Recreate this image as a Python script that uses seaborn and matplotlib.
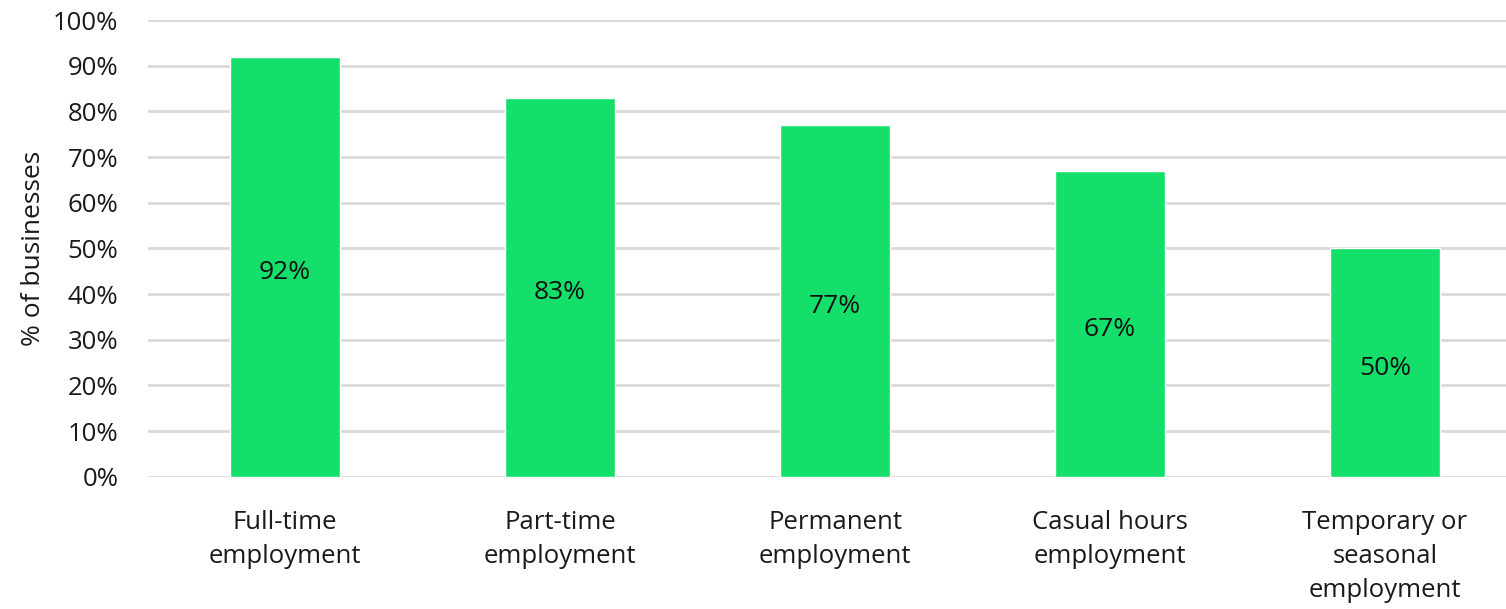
import pandas as pd
import seaborn as sns
import matplotlib.pyplot as plt

categories = ['Full-time\nemployment', 'Part-time\nemployment', 'Permanent\nemployment',
              'Casual hours\nemployment', 'Temporary or\nseasonal\nemployment']
values = [92, 83, 77, 67, 50]

df = pd.DataFrame({'type': categories, 'pct': values})

sns.set_style('white')
plt.rcParams['font.family'] = ['Open Sans', 'DejaVu Sans']
plt.rcParams['font.weight'] = 500

fig = plt.figure(figsize=(15.06, 6.09), dpi=100)
ax = fig.add_axes([0.098, 0.217, 0.902, 0.750])

sns.barplot(data=df, x='type', y='pct', color='#14df6b', width=0.4,
            saturation=1, ax=ax, zorder=3)

# labels in the middle of each bar (slightly below centre as in the original)
for i, v in enumerate(values):
    ax.annotate(f'{v}%', (i, v / 2), xytext=(0, -4), textcoords='offset points',
                ha='center', va='center', fontsize=19, color='#111111', zorder=4)

ax.set_ylim(0, 100)
ax.set_xlim(-0.5, 4.44)
ax.set_yticks(range(0, 101, 10))
ax.set_yticklabels([f'{t}%' for t in range(0, 101, 10)], fontsize=18.5, color='#1a1a1a')
ax.tick_params(axis='x', labelsize=18.5, colors='#1a1a1a', length=0, pad=24)
ax.tick_params(axis='y', length=0, pad=21)
for lbl in ax.get_xticklabels():
    lbl.set_linespacing(1.47)
ax.yaxis.grid(True, color='#d9d9d9', linewidth=2, zorder=0)
ax.set_axisbelow(True)
for s in ax.spines.values():
    s.set_visible(False)

ax.set_xlabel('')
ax.set_ylabel('% of businesses', fontsize=19, color='#1a1a1a', labelpad=5)

plt.savefig('out.png', dpi=100)
